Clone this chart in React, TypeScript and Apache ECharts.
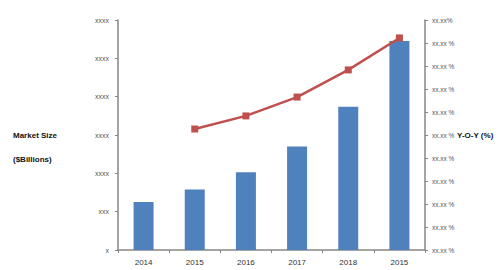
import React, { useEffect, useRef } from "react";
import * as echarts from "echarts";

const categories = ["2014", "2015", "2016", "2017", "2018", "2015"];
const marketSize = [1.25, 1.58, 2.03, 2.7, 3.74, 5.45];
const yoyGrowth: (number | string)[] = ["-", 5.26, 5.83, 6.65, 7.83, 9.22];
const leftTickLabels = ["x", "xxx", "xxxx", "xxxx", "xxxx", "xxxx", "xxxx"];
const rightTickLabels = [
  "xx.xx %", "xx.xx %", "xx.xx %", "xx.xx %", "xx.xx %", "xx.xx %",
  "xx.xx %", "xx.xx %", "xx.xx %", "xx.xx %", "xx.xx%",
];

const FONT = "'Liberation Sans', Arial, sans-serif";

export default function App() {
  const ref = useRef<HTMLDivElement>(null);
  useEffect(() => {
    document.body.style.margin = "0";
    if (!ref.current) return;
    const chart = echarts.init(ref.current, null, { renderer: "svg" });
    const axisLine = { show: true, lineStyle: { color: "#868686", width: 1.5 } };
    chart.setOption({
      animation: false,
      backgroundColor: "#ffffff",
      grid: { left: 118, right: 75, top: 20, bottom: 20 },
      xAxis: {
        type: "category",
        data: categories,
        axisLine,
        axisTick: { show: true, length: 3, lineStyle: { color: "#868686" } },
        axisLabel: { color: "#333", fontSize: 8, fontFamily: FONT, margin: 8 },
        splitLine: { show: false },
      },
      yAxis: [
        {
          type: "value",
          min: 0,
          max: 6,
          interval: 1,
          position: "left",
          axisLine,
          axisTick: { show: true, length: 3, lineStyle: { color: "#868686" } },
          splitLine: { show: false },
          axisLabel: {
            color: "#555",
            fontSize: 7,
            fontFamily: FONT,
            margin: 9,
            formatter: (v: number) => leftTickLabels[Math.round(v)] ?? "",
          },
        },
        {
          type: "value",
          min: 0,
          max: 10,
          interval: 1,
          position: "right",
          axisLine,
          axisTick: { show: true, length: 3, lineStyle: { color: "#868686" } },
          splitLine: { show: false },
          axisLabel: {
            color: "#555",
            fontSize: 6.5,
            fontFamily: FONT,
            margin: 7,
            formatter: (v: number) => rightTickLabels[Math.round(v)] ?? "",
          },
        },
      ],
      series: [
        {
          type: "bar",
          data: marketSize,
          yAxisIndex: 0,
          barWidth: 20,
          itemStyle: { color: "#4F81BD" },
        },
        {
          type: "line",
          data: yoyGrowth,
          yAxisIndex: 1,
          symbol: "rect",
          symbolSize: 7,
          lineStyle: { color: "#C0504D", width: 2.5 },
          itemStyle: { color: "#C0504D" },
        },
      ],
      graphic: [
        {
          type: "text",
          left: 13,
          top: 131,
          style: { text: "Market Size", fontSize: 8, fontWeight: "bold", fontFamily: FONT, fill: "#111" },
        },
        {
          type: "text",
          left: 13,
          top: 155,
          style: { text: "($Billions)", fontSize: 8, fontWeight: "bold", fontFamily: FONT, fill: "#111" },
        },
        {
          type: "text",
          left: 457,
          top: 131,
          style: { text: "Y-O-Y (%)", fontSize: 8, fontWeight: "bold", fontFamily: FONT, fill: "#111" },
        },
      ],
    });
    return () => chart.dispose();
  }, []);
  return <div ref={ref} style={{ width: 500, height: 270 }} />;
}
